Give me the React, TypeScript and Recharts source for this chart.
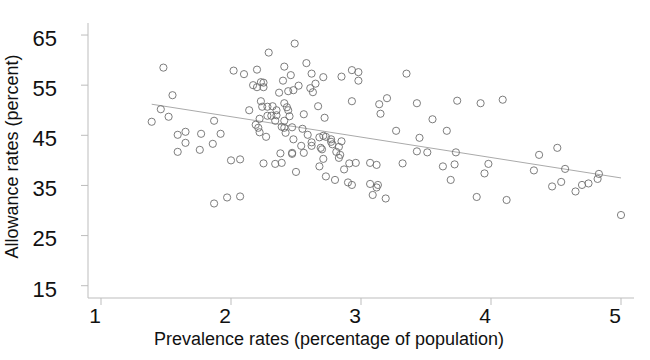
import { ScatterChart, Scatter, XAxis, YAxis, ReferenceLine } from "recharts"

// prevalence rate (x) and allowance rate (y) for each observation
const prevalence = [
  1.39, 1.46, 1.48, 1.52, 1.55, 1.59, 1.65, 1.65, 1.59, 1.76,
  1.77, 1.87, 1.86, 1.92, 1.87, 1.97, 2.07, 2.0, 2.07, 2.02,
  2.1, 2.14, 2.17, 2.2, 2.2, 2.23, 2.25, 2.25, 2.23, 2.24,
  2.29, 2.28, 2.32, 2.28, 2.31, 2.35, 2.35, 2.34, 2.19, 2.22,
  2.21, 2.22, 2.27, 2.25, 2.34, 2.39, 2.38, 2.37, 2.41, 2.4,
  2.44, 2.46, 2.49, 2.48, 2.52, 2.41, 2.43, 2.44, 2.45, 2.41,
  2.39, 2.41, 2.42, 2.47, 2.48, 2.47, 2.47, 2.5, 2.56, 2.55,
  2.59, 2.54, 2.56, 2.58, 2.62, 2.61, 2.63, 2.65, 2.71, 2.67,
  2.72, 2.68, 2.71, 2.73, 2.62, 2.62, 2.69, 2.7, 2.71, 2.68,
  2.73, 2.77, 2.77, 2.78, 2.81, 2.83, 2.85, 2.84, 2.83, 2.87,
  2.8, 2.9, 2.93, 2.91, 2.96, 2.85, 2.93, 2.98, 2.98, 2.93,
  3.07, 3.12, 3.07, 3.13, 3.12, 3.09, 3.19, 3.14, 3.15, 3.2,
  3.27, 3.32, 3.35, 3.43, 3.45, 3.43, 3.51, 3.55, 3.63, 3.66,
  3.69, 3.72, 3.73, 3.74, 3.92, 3.89, 3.98, 3.95, 4.09, 4.12,
  4.33, 4.37, 4.51, 4.47, 4.54, 4.57, 4.65, 4.7, 4.75, 4.82,
  4.83, 5.0,
]

const allowance = [
  47.7, 50.2, 58.5, 48.7, 53.0, 45.1, 45.7, 43.5, 41.7, 42.1,
  45.3, 47.9, 43.3, 45.3, 31.4, 32.6, 32.8, 40.0, 40.2, 57.9,
  57.2, 50.0, 55.0, 58.1, 54.6, 55.6, 55.5, 54.6, 51.8, 50.7,
  61.5, 50.7, 50.8, 48.9, 48.9, 50.0, 49.0, 47.9, 47.1, 48.3,
  46.5, 45.6, 44.7, 39.4, 39.3, 39.5, 41.4, 53.5, 58.7, 55.9,
  53.8, 57.0, 63.3, 54.0, 54.9, 51.4, 50.6, 50.0, 48.8, 47.9,
  46.7, 46.5, 45.5, 46.6, 44.2, 41.5, 41.3, 37.7, 49.2, 46.3,
  45.1, 42.9, 41.5, 59.4, 57.3, 54.4, 53.6, 55.3, 56.6, 50.8,
  48.5, 44.6, 44.9, 44.7, 43.6, 42.9, 42.5, 42.2, 40.3, 38.8,
  36.8, 44.2, 43.7, 43.2, 41.7, 42.7, 43.8, 41.1, 40.5, 38.2,
  36.1, 35.6, 35.1, 39.4, 39.5, 56.7, 58.0, 57.6, 55.9, 51.8,
  39.5, 39.1, 35.3, 35.1, 34.6, 33.1, 32.4, 51.2, 49.3, 52.4,
  45.9, 39.4, 57.3, 51.4, 44.5, 41.8, 41.6, 48.2, 38.8, 45.9,
  36.1, 39.2, 41.6, 51.9, 51.4, 32.7, 39.3, 37.4, 52.1, 32.1,
  38.0, 41.1, 42.5, 34.8, 35.7, 38.3, 33.8, 35.1, 35.4, 36.3,
  37.3, 29.1,
]

// fitted line end points
const trendX = [1.39, 5.0]
const trendY = [51.2, 36.5]

const xTicks = [1, 2, 3, 4, 5]
const yTicks = [15, 25, 35, 45, 55, 65]

const points = prevalence.map((x, i) => ({ x, y: allowance[i] }))

const FONT = '"Liberation Sans", Arial, sans-serif'

const Ring = (props: any) => (
  <circle cx={props.cx} cy={props.cy} r={3.6} fill="none" stroke="#6e6e6e" strokeWidth={0.9} />
)

const XTick = ({ x, y, payload }: any) => (
  <text x={x - 6} y={y} dy="0.71em" textAnchor="middle" fontSize={21} fill="#111" fontFamily={FONT}>
    {payload.value}
  </text>
)

const YTick = ({ x, y, payload }: any) => (
  <text x={x} y={y + 3} dy="0.355em" textAnchor="end" fontSize={22} fill="#111" fontFamily={FONT}>
    {payload.value}
  </text>
)

const App = () => {
  return (
    <div style={{ position: "absolute", left: 0, top: 0, width: 650, height: 360, background: "#fff" }}>
      <ScatterChart width={650} height={360} margin={{ top: 23, right: 16, left: 0, bottom: 0 }}>
        <XAxis
          type="number"
          dataKey="x"
          domain={[0.9, 5.1]}
          ticks={xTicks}
          allowDataOverflow
          height={62}
          tickSize={7}
          tickMargin={3}
          stroke="#bdbdbd"
          tick={<XTick />}
          label={{
            value: "Prevalence rates (percentage of population)",
            content: ({ viewBox }: any) => (
              <text
                x={viewBox.x + viewBox.width / 2 - 32}
                y={345}
                textAnchor="middle"
                fontSize={18}
                fill="#111"
                fontFamily={FONT}
              >
                Prevalence rates (percentage of population)
              </text>
            ),
          }}
        />
        <YAxis
          type="number"
          dataKey="y"
          domain={[12.55, 67.4]}
          ticks={yTicks}
          allowDataOverflow
          width={88}
          tickSize={7}
          tickMargin={24}
          stroke="#bdbdbd"
          tick={<YTick />}
          label={{
            value: "Allowance rates (percent)",
            content: ({ viewBox }: any) => {
              const cx = 18
              const cy = viewBox.y + viewBox.height / 2 - 4
              return (
                <text
                  x={cx}
                  y={cy}
                  transform={`rotate(-90, ${cx}, ${cy})`}
                  textAnchor="middle"
                  fontSize={18}
                  fill="#111"
                  fontFamily={FONT}
                >
                  Allowance rates (percent)
                </text>
              )
            },
          }}
        />
        <ReferenceLine
          segment={[
            { x: trendX[0], y: trendY[0] },
            { x: trendX[1], y: trendY[1] },
          ]}
          stroke="#aaaaaa"
          strokeWidth={1}
        />
        <Scatter data={points} shape={<Ring />} isAnimationActive={false} />
      </ScatterChart>
    </div>
  )
}

export default App
